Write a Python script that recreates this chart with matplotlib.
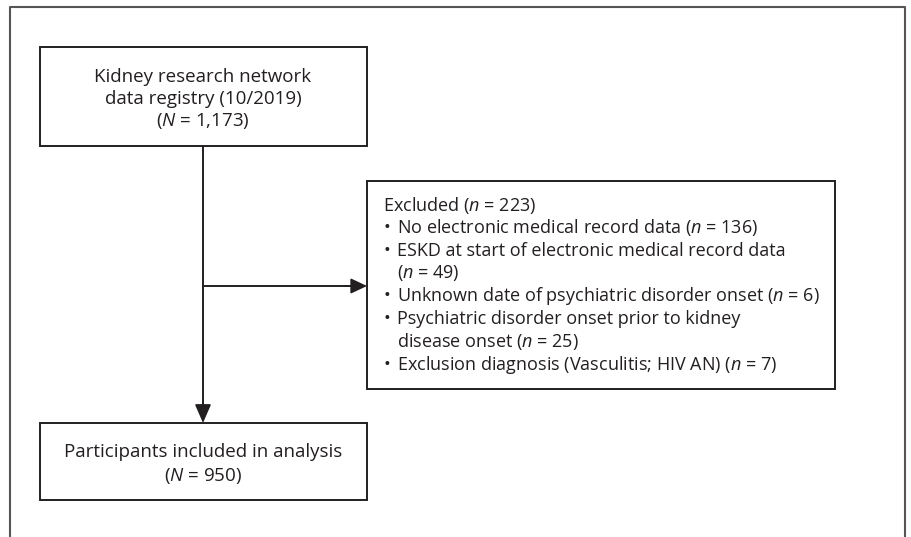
import matplotlib
matplotlib.use("Agg")
import matplotlib.pyplot as plt
from matplotlib.patches import Rectangle

plt.rcParams['font.family'] = ['Open Sans', 'DejaVu Sans']
plt.rcParams['mathtext.fontset'] = 'custom'
plt.rcParams['mathtext.rm'] = 'Open Sans'
plt.rcParams['mathtext.it'] = 'Open Sans:italic'

top_lines = ["Kidney research network", "data registry (10/2019)", "($N$ = 1,173)"]
excl_header = "Excluded ($n$ = 223)"
excl_items = [
    ["No electronic medical record data ($n$ = 136)"],
    ["ESKD at start of electronic medical record data", "($n$ = 49)"],
    ["Unknown date of psychiatric disorder onset ($n$ = 6)"],
    ["Psychiatric disorder onset prior to kidney", "disease onset ($n$ = 25)"],
    ["Exclusion diagnosis (Vasculitis; HIV AN) ($n$ = 7)"],
]
bottom_lines = ["Participants included in analysis", "($N$ = 950)"]

W, H = 912, 537
fig = plt.figure(figsize=(W / 100, H / 100), dpi=100)
ax = fig.add_axes([0, 0, 1, 1])
ax.set_xlim(0, W)
ax.set_ylim(H, 0)
ax.axis('off')

fs_main = 13.5
fs_excl = 13
ink = '#231f20'

# outer frame (open at the bottom)
ax.plot([10, 10, 905, 905], [H, 7, 7, H], color='#555555', lw=1.5, solid_capstyle='butt')

# boxes
def box(x0, y0, x1, y1):
    ax.add_patch(Rectangle((x0, y0), x1 - x0, y1 - y0, fill=False, ec=ink, lw=1.4))

box(40, 47, 367, 146)
box(367, 181, 835, 389)
box(40, 423, 367, 500)

# top text
for i, t in enumerate(top_lines):
    ax.text(203, 77 + i * 21.8, t, ha='center', va='center', fontsize=fs_main, color=ink)

# exclusion text
lh = 22.8
y = 205
ax.text(383, y, excl_header, ha='left', va='center', fontsize=fs_excl, color=ink)
for item in excl_items:
    for j, t in enumerate(item):
        y += lh
        if j == 0:
            ax.text(384, y, "\u2022", ha='left', va='center', fontsize=fs_excl, color=ink)
        ax.text(397, y, t, ha='left', va='center', fontsize=fs_excl, color=ink)

# bottom text
for i, t in enumerate(bottom_lines):
    ax.text(203, 452 + i * 24, t, ha='center', va='center', fontsize=fs_main, color=ink)

# connectors
ax.plot([203, 203], [146, 410], color=ink, lw=1.4)
ax.annotate('', xy=(203, 423), xytext=(203, 400),
            arrowprops=dict(arrowstyle='-|>,head_length=1.15,head_width=0.5', color=ink, lw=1.2,
                            shrinkA=0, shrinkB=0))
ax.plot([203, 355], [286, 286], color=ink, lw=1.4)
ax.annotate('', xy=(367, 286), xytext=(345, 286),
            arrowprops=dict(arrowstyle='-|>,head_length=1.0,head_width=0.47', color=ink, lw=1.2,
                            shrinkA=0, shrinkB=0))

fig.savefig('out.png', dpi=100, facecolor='white')
